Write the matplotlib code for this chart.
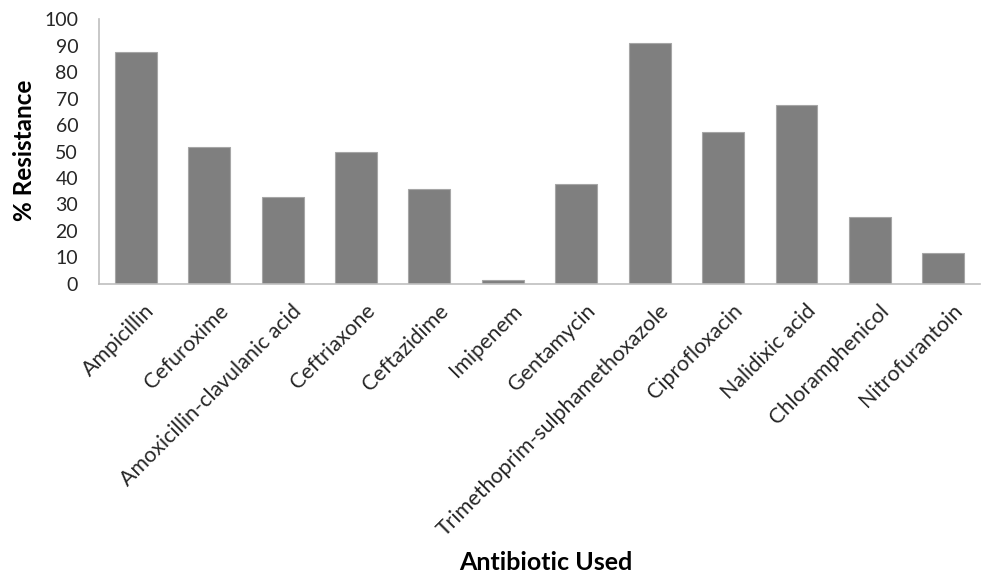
import matplotlib.pyplot as plt
import numpy as np

antibiotics = [
    "Ampicillin", "Cefuroxime", "Amoxicillin-clavulanic acid", "Ceftriaxone",
    "Ceftazidime", "Imipenem", "Gentamycin", "Trimethoprim-sulphamethoxazole",
    "Ciprofloxacin", "Nalidixic acid", "Chloramphenicol", "Nitrofurantoin",
]
resistance = [87.4, 51.8, 33.0, 49.7, 36.0, 1.5, 37.6, 91.0, 57.4, 67.4, 25.4, 11.6]
yticks = list(range(0, 101, 10))

plt.rcParams['font.family'] = ['Lato', 'DejaVu Sans']

fig = plt.figure(figsize=(9.85, 5.73), dpi=100)
ax = fig.add_axes([0.1005, 0.5044, 0.8945, 0.4624])

x = np.arange(len(antibiotics))
ax.bar(x, resistance, width=0.571, color='#7f7f7f', edgecolor='#a6a6a6', linewidth=0.8)

ax.set_xlim(-0.5, len(antibiotics) - 0.5)
ax.set_ylim(0, 100)
ax.set_yticks(yticks)
ax.tick_params(axis='y', length=0, labelsize=14, pad=15, labelcolor='#262626')
ax.tick_params(axis='x', length=0, pad=12)
ax.set_xticks(x + 0.12)
ax.set_xticklabels(antibiotics, rotation=45, ha='right', rotation_mode='anchor',
                   fontsize=15.4, color='#262626')

for side in ['top', 'right']:
    ax.spines[side].set_visible(False)
for side in ['left', 'bottom']:
    ax.spines[side].set_color('#bfbfbf')
    ax.spines[side].set_linewidth(1.2)

fig.text(0.025, 0.738, '% Resistance', rotation=90, ha='center', va='center',
         fontsize=17.5, fontweight='bold', color='#000000')
fig.text(0.554, 0.019, 'Antibiotic Used', ha='center', va='center',
         fontsize=18, fontweight='bold', color='#000000')

fig.savefig('out.png', dpi=100)
